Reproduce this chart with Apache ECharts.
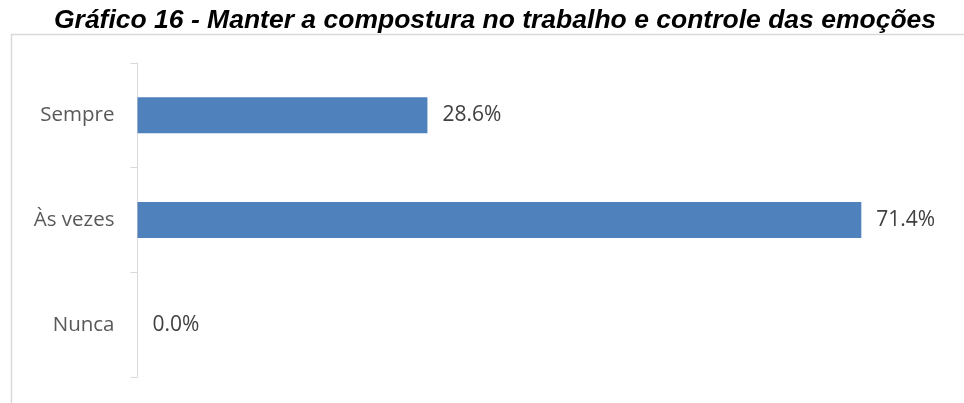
<!DOCTYPE html>
<html>
<head>
<meta charset="utf-8">
<script src="https://cdn.jsdelivr.net/npm/echarts@6/dist/echarts.min.js"></script>
<style>
  html, body { margin: 0; padding: 0; background: #fff; }
  #chart { width: 964px; height: 403px; }
</style>
</head>
<body>
<div id="chart"></div>
<script>
// Answer categories, top to bottom
const categories = ['Sempre', 'Às vezes', 'Nunca'];
// Share of responses (%)
const shares = [28.6, 71.4, 0.0];
const titleText = 'Gráfico 16 - Manter a compostura no trabalho e controle das emoções';

const chart = echarts.init(document.getElementById('chart'), null, { renderer: 'canvas' });

chart.setOption({
  backgroundColor: '#ffffff',
  animation: false,
  title: {
    text: titleText,
    left: 490,
    textAlign: 'center',
    top: 2,
    textStyle: {
      fontFamily: 'Liberation Sans, Arial, sans-serif',
      fontStyle: 'italic',
      fontWeight: 'bold',
      fontSize: 26.5,
      color: '#000000'
    }
  },
  graphic: [
    {
      type: 'rect',
      shape: { x: 11.5, y: 34.5, width: 1000, height: 500 },
      style: { fill: 'none', stroke: '#d9d9d9', lineWidth: 1.5 },
      silent: true
    }
  ],
  grid: { left: 137.5, top: 63, width: 811, height: 314, containLabel: false },
  xAxis: {
    type: 'value',
    min: 0,
    max: 80,
    show: false
  },
  yAxis: {
    type: 'category',
    data: categories,
    inverse: true,
    axisLine: { show: true, lineStyle: { color: '#d9d9d9', width: 1 } },
    axisTick: { show: true, length: 7, lineStyle: { color: '#d9d9d9', width: 1 } },
    axisLabel: {
      margin: 23,
      color: '#595959',
      fontFamily: 'Open Sans, Noto Sans, sans-serif',
      fontSize: 20.5
    }
  },
  series: [
    {
      type: 'bar',
      data: shares,
      barWidth: 36,
      itemStyle: { color: '#4f81bd' },
      label: {
        show: true,
        position: 'right',
        distance: 15,
        color: '#404040',
        fontFamily: 'Open Sans, Noto Sans, sans-serif',
        fontSize: 21,
        formatter: p => p.value.toFixed(1) + '%'
      }
    }
  ]
});
</script>
</body>
</html>
